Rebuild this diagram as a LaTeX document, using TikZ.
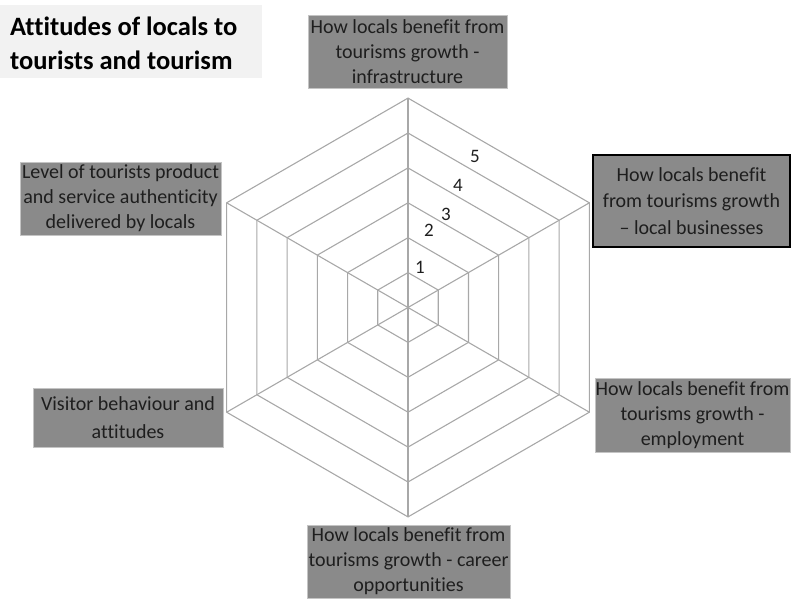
\documentclass[tikz,border=0pt]{standalone}
\usepackage{fontspec}
\setmainfont{Carlito}[Ligatures={NoCommon}]
\definecolor{gridgray}{HTML}{A8A8A8}
\definecolor{boxgray}{HTML}{8A8A8A}
\definecolor{boxedge}{HTML}{C4C4C4}
\definecolor{textdark}{HTML}{1E1E1E}
\definecolor{titlebg}{HTML}{F2F2F2}
\begin{document}
\begin{tikzpicture}[x=1pt,y=-1pt,
  grid/.style={draw=gridgray, line width=1.1pt},
  lbl/.style={fill=boxgray, draw=boxedge, line width=0.8pt, inner sep=0pt, align=center,
    text=textdark, font=\fontsize{20}{25}\selectfont},
  num/.style={font=\fontsize{19}{20}\selectfont, text=textdark, inner sep=0pt},
  ttl/.style={anchor=base west, inner sep=0pt, text=black, font=\fontsize{26.5}{30}\selectfont\bfseries}]
\useasboundingbox (0,0) rectangle (792,599);
% title
\fill[titlebg] (0,5) rectangle (262,78);
\node[ttl] (t1) at (10,36) {Attitudes of locals to};
\node[ttl] (t2) at (10,70) {tourists and tourism};
% radar grid
\coordinate (C) at (408,307.5);
\foreach \k in {1,...,6}{
  \pgfmathsetmacro{\r}{34.9*\k}
  \draw[grid] ([shift={(30:\r)}]C) -- ([shift={(90:\r)}]C) -- ([shift={(150:\r)}]C)
    -- ([shift={(210:\r)}]C) -- ([shift={(270:\r)}]C) -- ([shift={(330:\r)}]C) -- cycle;
}
\draw[grid] ([shift={(90:209.4)}]C) -- ([shift={(270:209.4)}]C);
\draw[grid] ([shift={(30:209.4)}]C) -- ([shift={(210:209.4)}]C);
\draw[grid] ([shift={(150:209.4)}]C) -- ([shift={(330:209.4)}]C);
% scale numbers
\node[num] (n5) at (475,156) {5};
\node[num] (n4) at (458,185) {4};
\node[num] (n3) at (446,214) {3};
\node[num] (n2) at (429,230) {2};
\node[num] (n1) at (420,267) {1};
% labels
\node[lbl, minimum width=199, minimum height=73] (infra) at (407.5,51.5)
  {How locals benefit from\\tourisms growth -\\infrastructure};
\node[lbl, draw=black, line width=1.2pt, minimum width=197, minimum height=92,
  font=\fontsize{20}{26.5}\selectfont] (busi) at (691.5,201)
  {How locals benefit\\from tourisms growth\\– local businesses};
\node[lbl, minimum width=201, minimum height=73] (auth) at (120.5,198.5)
  {Level of tourists product\\and service authenticity\\delivered by locals};
\node[lbl, minimum width=195, minimum height=74] (empl) at (692.5,415)
  {How locals benefit from\\tourisms growth -\\employment};
\node[lbl, minimum width=190, minimum height=59, font=\fontsize{20}{28}\selectfont] (visit) at (128,417.5)
  {Visitor behaviour and\\attitudes};
\node[lbl, minimum width=203, minimum height=73] (career) at (408.5,561.5)
  {How locals benefit from\\tourisms growth - career\\opportunities};
\end{tikzpicture}
\end{document}
